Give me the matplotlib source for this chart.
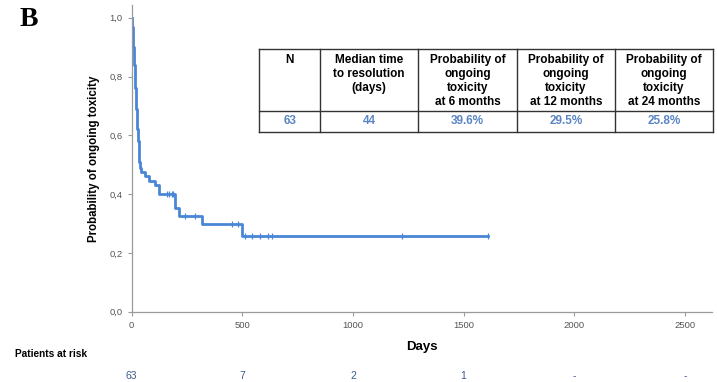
import numpy as np
import matplotlib
matplotlib.use('Agg')
import matplotlib.pyplot as plt

plt.rcParams['font.family'] = ['Liberation Sans', 'DejaVu Sans']

# Kaplan-Meier steps
step_days = [0, 3, 5, 7, 9, 11, 13, 15, 17, 19, 21, 23, 25, 28, 31, 34, 37, 40,
             60, 80, 105, 125, 196, 215, 319, 497, 1612]
step_surv = [1.0, 0.97, 0.935, 0.90, 0.87, 0.84, 0.815, 0.79, 0.76, 0.725, 0.69,
             0.655, 0.62, 0.58, 0.545, 0.51, 0.49, 0.476, 0.46, 0.443, 0.43, 0.40,
             0.352, 0.327, 0.298, 0.258, 0.258]
censor_days = [160, 170, 180, 188, 241, 286, 455, 482, 512, 542, 580, 618, 633, 1220, 1612]

risk_days = [0, 500, 1000, 1500, 2000, 2500]
risk_counts = ['63', '7', '2', '1', '-', '-']

col_headers = ['N', 'Median time\nto resolution\n(days)',
               'Probability of\nongoing\ntoxicity\nat 6 months',
               'Probability of\nongoing\ntoxicity\nat 12 months',
               'Probability of\nongoing\ntoxicity\nat 24 months']
col_values = ['63', '44', '39.6%', '29.5%', '25.8%']

W, H = 717, 382
fig = plt.figure(figsize=(W / 100, H / 100), dpi=100)
ax = fig.add_axes([131.7 / W, 1 - 311.7 / H, (712 - 131.7) / W, (311.7 - 5) / H])

line_col = '#4a86d6'
ax.step(step_days, step_surv, where='post', color=line_col, lw=2.0)

def surv_at(d):
    idx = np.searchsorted(step_days, d, side='right') - 1
    return step_surv[idx]

ax.plot(censor_days, [surv_at(d) for d in censor_days], ls='none', marker='|',
        color=line_col, ms=5, mew=0.9)

ax.set_xlim(0, 2623)
ax.set_ylim(0, (311.7 - 5) / 294)
ax.set_xticks(risk_days)
ax.set_yticks([0, 0.2, 0.4, 0.6, 0.8, 1.0])
ax.set_yticklabels(['0,0', '0,2', '0,4', '0,6', '0,8', '1,0'])
for s in ['top', 'right']:
    ax.spines[s].set_visible(False)
for s in ['left', 'bottom']:
    ax.spines[s].set_color('#9a9a9a')
    ax.spines[s].set_linewidth(0.9)
ax.tick_params(colors='#9a9a9a', labelcolor='#555555', labelsize=6.8, length=3, width=0.8)
ax.set_ylabel('Probability of ongoing toxicity', fontsize=8.3, fontweight='bold', labelpad=7)
ax.set_xlabel('Days', fontsize=9.5, fontweight='bold', labelpad=8)

fig.text(20 / W, 1 - 20 / H, 'B', family='Liberation Serif', fontweight='bold',
         fontsize=20, va='center', ha='left')

fig.text(15 / W, 1 - 354 / H, 'Patients at risk', fontsize=7.3, fontweight='bold',
         va='center', ha='left')
for d, c in zip(risk_days, risk_counts):
    ax.annotate(c, xy=(d, 0), xycoords=('data', 'axes fraction'),
                xytext=(0, -(376 - 311.7) * 0.72), textcoords='offset points',
                ha='center', va='center', fontsize=7.5, color='#3b5a8c')

# summary table
col_edges = [259.3, 320, 418.3, 516.7, 615, 712.7]
top, mid, bot = 49.3, 111, 131.7
def fx(p):
    return p / W
def fy(p):
    return 1 - p / H
lc = '#333333'
for y in [top, mid, bot]:
    fig.add_artist(plt.Line2D([fx(col_edges[0]), fx(col_edges[-1])], [fy(y), fy(y)],
                              color=lc, lw=1.0))
for x in col_edges:
    fig.add_artist(plt.Line2D([fx(x), fx(x)], [fy(top), fy(bot)], color=lc, lw=1.0))
for i in range(5):
    cx = (col_edges[i] + col_edges[i + 1]) / 2
    fig.text(fx(cx), fy(top + 5), col_headers[i], ha='center', va='top', fontsize=8.5,
             fontweight='bold', linespacing=1.2)
    fig.text(fx(cx), fy((mid + bot) / 2), col_values[i], ha='center', va='center',
             fontsize=8.5, fontweight='bold', color='#5b86c4')

fig.savefig('out.png', dpi=100)
